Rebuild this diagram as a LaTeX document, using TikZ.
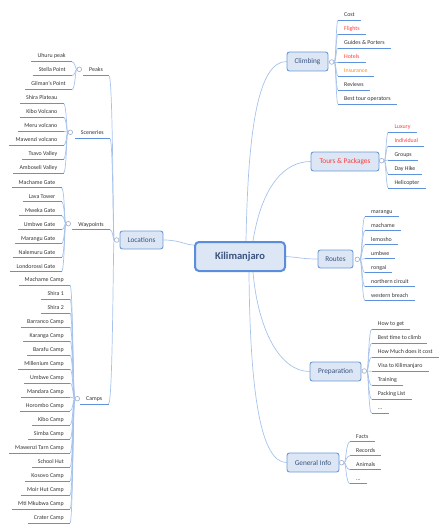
\documentclass[tikz,border=0pt]{standalone}
\usepackage{fontspec}
\setmainfont{Carlito}
\usetikzlibrary{calc}
\pgfdeclarelayer{bg}
\pgfsetlayers{bg,main}
\definecolor{boxfill}{HTML}{DCE6F4}
\definecolor{boxdraw}{HTML}{6A9BD6}
\definecolor{kdraw}{HTML}{5A8EDB}
\definecolor{linkc}{HTML}{A7C3EB}
\definecolor{ulinec}{HTML}{5E92DC}
\definecolor{knobc}{HTML}{9AAFCB}
\definecolor{topictext}{HTML}{3A5280}
\definecolor{lt}{HTML}{333333}
\definecolor{rd}{HTML}{FF3B3B}
\definecolor{og}{HTML}{FF8C1A}
\newcommand\mydots{...}
\tikzset{
  topic/.style={draw=boxdraw, fill=boxfill, line width=0.9pt, rounded corners=2.5pt, inner sep=0pt, font=\fontsize{7.3}{8}\selectfont, text=topictext},
  central/.style={draw=kdraw, fill=boxfill, line width=2pt, rounded corners=4pt, inner sep=0pt, font=\fontsize{10.5}{12}\selectfont\bfseries, text=topictext},
  leafR/.style={anchor=south west, inner xsep=6pt, inner ysep=2.2pt, text height=4.5pt, text depth=1.3pt, font=\fontsize{5.9}{7}\selectfont, text=lt},
  leafL/.style={leafR, anchor=south east},
  knob/.style={circle, draw=knobc, fill=white, line width=0.6pt, minimum size=4.6pt, inner sep=0pt},
  link/.style={draw=linkc, line width=0.7pt},
  uline/.style={draw=ulinec, line width=0.9pt},
}
\begin{document}
\begin{tikzpicture}[x=1pt,y=-1pt]
\useasboundingbox (0,0) rectangle (447,532);

% main topics
\node[central, minimum width=90pt, minimum height=29pt] (K) at (240,256.5) {Kilimanjaro};
\node[topic, minimum width=43pt, minimum height=18pt] (loc) at (141.5,240) {Locations};
\node[topic, minimum width=41pt, minimum height=19pt] (climb) at (307.5,61.5) {Climbing};
\node[topic, minimum width=68pt, minimum height=19pt, text=rd] (tour) at (345,161.5) {Tours \& Packages};
\node[topic, minimum width=35pt, minimum height=18pt] (route) at (335.5,259) {Routes};
\node[topic, minimum width=51pt, minimum height=19pt] (prep) at (335.5,371.5) {Preparation};
\node[topic, minimum width=52pt, minimum height=19pt] (gen) at (313,462.5) {General Info};

% knobs
\node[knob] (lok) at (116.7,240) {};
\node[knob] (clk) at (331.7,62) {};
\node[knob] (tpk) at (381.7,160.7) {};
\node[knob] (rok) at (357.3,259.3) {};
\node[knob] (prk) at (364.3,371) {};
\node[knob] (gik) at (341.7,462.7) {};

% main connectors
\begin{pgfonlayer}{bg}
\draw[link] ($(K.north)+(6,0)$) .. controls (248,130) and (258,61.5) .. (climb.west);
\draw[link] ($(K.north)+(13,0)$) .. controls (262,185) and (285,161.5) .. (tour.west);
\draw[link] (K.east) .. controls (300,257.5) and (303,259) .. (route.west);
\draw[link] ($(K.south)+(13,0)$) .. controls (258,330) and (280,371.5) .. (prep.west);
\draw[link] ($(K.south)+(9,0)$) .. controls (250,400) and (262,462.5) .. (gen.west);
\draw[link] (loc.east) .. controls (180,240) and (185,245) .. ($(K.west)+(0,-11.5)$);
\end{pgfonlayer}

% Climbing
\foreach \lbl/\y/\col [count=\i] in {Cost/20/lt, Flights/34/rd, {Guides \& Porters}/48/lt, Hotels/62/rd, Insurance/76/og, Reviews/90/lt, {Best tour operators}/104/lt}{
  \node[leafR, text=\col] (cl\i) at (338,\y) {\lbl};
  \begin{pgfonlayer}{bg}
  \draw[link] (clk.east) .. controls (336,62) and (336,\y) .. (cl\i.south west);
  \end{pgfonlayer}
  \draw[uline] (cl\i.south west) -- (cl\i.south east);
}
% Tours
\foreach \lbl/\y/\col [count=\i] in {Luxury/132/rd, Individual/146/rd, Groups/160/lt, {Day Hike}/174/lt, Helicopter/188/lt}{
  \node[leafR, text=\col] (tp\i) at (388.3,\y) {\lbl};
  \begin{pgfonlayer}{bg}
  \draw[link] (tpk.east) .. controls (386,160.7) and (386,\y) .. (tp\i.south west);
  \end{pgfonlayer}
  \draw[uline] (tp\i.south west) -- (tp\i.south east);
}
% Routes
\foreach \lbl/\y [count=\i] in {marangu/216.7, machame/230.7, lemosho/244.7, umbwe/258.7, rongai/272.7, {northern circuit}/286.7, {western breach}/300.7}{
  \node[leafR] (ro\i) at (365,\y) {\lbl};
  \begin{pgfonlayer}{bg}
  \draw[link] (rok.east) .. controls (362,259.3) and (362,\y) .. (ro\i.south west);
  \end{pgfonlayer}
  \draw[uline] (ro\i.south west) -- (ro\i.south east);
}
% Preparation
\foreach \lbl/\y [count=\i] in {{How to get}/329.3, {Best time to climb}/343.3, {How Much does it cost}/357.3, {Visa to Kilimanjaro}/371.3, Training/385.3, {Packing List}/399.3, \mydots/413.3}{
  \node[leafR] (pr\i) at (371.7,\y) {\lbl};
  \begin{pgfonlayer}{bg}
  \draw[link] (prk.east) .. controls (368.5,371) and (368.5,\y) .. (pr\i.south west);
  \end{pgfonlayer}
  \draw[uline] (pr\i.south west) -- (pr\i.south east);
}
% General Info
\foreach \lbl/\y [count=\i] in {Facts/441.7, Records/455.7, Animals/469.7, \mydots/483.7}{
  \node[leafR] (gi\i) at (350,\y) {\lbl};
  \begin{pgfonlayer}{bg}
  \draw[link] (gik.east) .. controls (346,462.7) and (346,\y) .. (gi\i.south west);
  \end{pgfonlayer}
  \draw[uline] (gi\i.south west) -- (gi\i.south east);
}

% Location groups
\node[leafL] (peaks) at (109,75.7) {Peaks};
\node[leafL] (scen) at (110,138.7) {Sceneries};
\node[leafL] (wayp) at (110,229.7) {Waypoints};
\node[leafL] (camps) at (108.5,404) {Camps};
\foreach \g in {peaks,scen,wayp,camps}{
  \begin{pgfonlayer}{bg}
  \draw[link] (lok.west) .. controls (113,240) and (113,0 |- \g.south east) .. (\g.south east);
  \end{pgfonlayer}
  \draw[uline] (\g.south west) -- (\g.south east);
}
\node[knob] (pkk) at (79.3,69.3) {};
\node[knob] (sck) at (70.3,132.3) {};
\node[knob] (wpk) at (68.3,223.7) {};
\node[knob] (cpk) at (77.3,398.7) {};

% Peaks
\foreach \lbl/\y [count=\i] in {{Uhuru peak}/61.7, {Stella Point}/75.7, {Gilman's Point}/89.7}{
  \node[leafL] (pk\i) at (71.8,\y) {\lbl};
  \begin{pgfonlayer}{bg}
  \draw[link] (pkk.west) .. controls (75.3,69.3) and (75.3,\y) .. (pk\i.south east);
  \end{pgfonlayer}
  \draw[uline] (pk\i.south west) -- (pk\i.south east);
}
% Sceneries
\foreach \lbl/\y [count=\i] in {{Shira Plateau}/103.3, {Kibo Volcano}/117.3, {Meru volcano}/131.3, {Mawenzi volcano}/145.3, {Tsavo Valley}/159.3, {Amboseli Valley}/173.3}{
  \node[leafL] (sc\i) at (63.5,\y) {\lbl};
  \begin{pgfonlayer}{bg}
  \draw[link] (sck.west) .. controls (66.5,132.3) and (66.5,\y) .. (sc\i.south east);
  \end{pgfonlayer}
  \draw[uline] (sc\i.south west) -- (sc\i.south east);
}
% Waypoints
\foreach \lbl/\y [count=\i] in {{Machame Gate}/187.7, {Lava Tower}/201.7, {Mweka Gate}/215.7, {Umbwe Gate}/229.7, {Marangu Gate}/243.7, {Nalemuru Gate}/257.7, {Londorossi Gate}/271.7}{
  \node[leafL] (wp\i) at (61.5,\y) {\lbl};
  \begin{pgfonlayer}{bg}
  \draw[link] (wpk.west) .. controls (64.5,223.7) and (64.5,\y) .. (wp\i.south east);
  \end{pgfonlayer}
  \draw[uline] (wp\i.south west) -- (wp\i.south east);
}
% Camps
\foreach \lbl/\y [count=\i] in {{Machame Camp}/285, {Shira 1}/299, {Shira 2}/313, {Barranco Camp}/327, {Karanga Camp}/341, {Barafu Camp}/355, {Millenium Camp}/369, {Umbwe Camp}/383, {Mandara Camp}/397, {Horombo Camp}/411, {Kibo Camp}/425, {Simba Camp}/439, {Mawenzi Tarn Camp}/453, {School Hut}/467, {Kosovo Camp}/481, {Moir Hut Camp}/495, {Mti Mkubwa Camp}/509, {Crater Camp}/523}{
  \node[leafL] (cp\i) at (70,\y) {\lbl};
  \begin{pgfonlayer}{bg}
  \draw[link] (cpk.west) .. controls (73,398.7) and (73,\y) .. (cp\i.south east);
  \end{pgfonlayer}
  \draw[uline] (cp\i.south west) -- (cp\i.south east);
}
\end{tikzpicture}
\end{document}
